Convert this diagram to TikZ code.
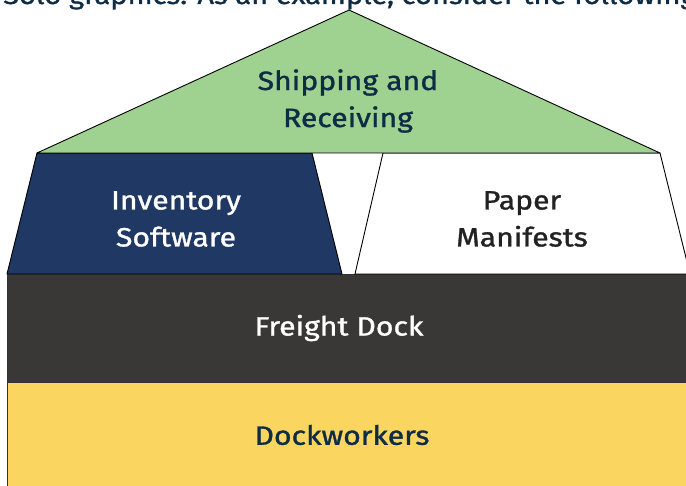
\documentclass[tikz,border=0pt]{standalone}
\usepackage{fontspec}
\setmainfont{Fira Sans}[FakeBold=1.2, FakeStretch=1.14]
\definecolor{roofgreen}{HTML}{9FD190}
\definecolor{navyblk}{HTML}{1F3864}
\definecolor{dockgray}{HTML}{3A3837}
\definecolor{workyellow}{HTML}{FAD660}
\definecolor{inkblue}{HTML}{0E2C43}
\definecolor{inkdark}{HTML}{222222}
\tikzset{
  part/.style={draw=black, line width=0.9pt, line join=round},
  lbl/.style={align=center, inner sep=0pt, font=\fontsize{26.5}{37}\selectfont},
}
\begin{document}
\begin{tikzpicture}[x=1pt,y=-1pt]
\useasboundingbox (0,0) rectangle (686,486);
\clip (0,0) rectangle (686,486);
% top cut-off caption
\node[anchor=base west, inner sep=0pt, text=inkblue, font=\fontsize{25.5}{30}\selectfont] (cap) at (3,4) {Solo graphics. As an example, consider the following};
% layers
\fill[workyellow, draw=black!80, line width=0.8pt] (7,382) rectangle (694,492);
\fill[dockgray, draw=black!80, line width=0.8pt] (7,274) rectangle (694,382);
\filldraw[part, fill=navyblk] (37,153) -- (312,153) -- (342,274) -- (7,274) -- cycle;
\filldraw[part, fill=white] (383,153) -- (660,153) -- (690,274) -- (355,274) -- cycle;
\filldraw[part, fill=roofgreen] (349,10) -- (660,153) -- (37,153) -- cycle;
% labels
\node[lbl, text=inkblue] (ship) at (348,101) {Shipping and\\Receiving};
\node[lbl, text=white] (inv) at (176,219) {Inventory\\Software};
\node[lbl, text=inkdark] (paper) at (522,219) {Paper\\Manifests};
\node[lbl, text=white] (freight) at (339,328) {Freight Dock};
\node[lbl, text=inkblue] (workers) at (342,435) {Dockworkers};
\end{tikzpicture}
\end{document}
